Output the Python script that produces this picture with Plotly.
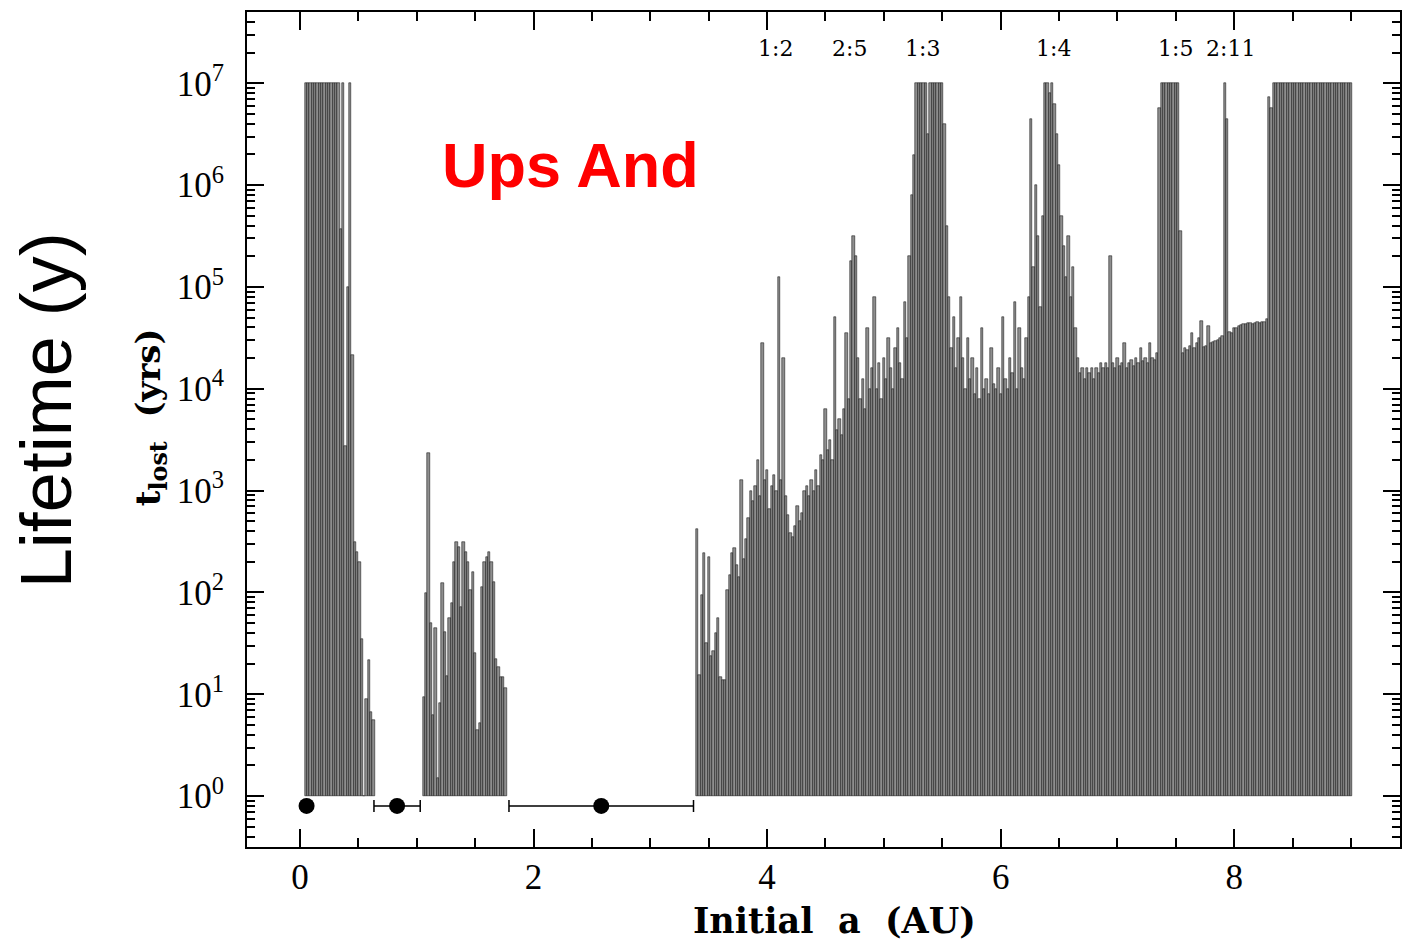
import numpy as np
import plotly.graph_objects as go

# Test-particle survival times around Ups And.
# Initial semi-major axes are sampled every 0.02 AU in three stable-looking zones.
STEP = 0.02
a_inner = np.round(0.05 + STEP * np.arange(30), 3)
a_middle = np.round(1.06 + STEP * np.arange(36), 3)
a_outer = np.round(3.40 + STEP * np.arange(281), 3)

# log10 of the time (years) before each particle was lost; 7 = survived the full 10^7 yr run
log_t_inner = [
    7, 7, 7, 7, 7, 7, 7, 7, 7, 7,
    7, 7, 7, 7, 7, 5.57, 7, 3.44, 5.0, 7,
    4.33, 2.5, 2.4, 2.3, 1.54, 0, 0.95, 1.34, 0.83, 0.75,
]
log_t_middle = [
    0.97, 1.99, 3.37, 1.70, 0.80, 1.65, 0.18, 0.91, 2.09, 1.61,
    1.18, 1.75, 1.90, 2.30, 2.50, 2.45, 1.86, 2.50, 2.40, 2.30,
    2.02, 2.20, 1.41, 0.65, 0.72, 2.05, 2.30, 2.35, 2.40, 2.30,
    2.10, 1.35, 1.27, 1.17, 1.17, 1.06,
]
log_t_outer = [
    2.62, 1.19, 1.97, 2.39, 1.50, 2.35, 1.38, 1.42, 1.60, 1.75,
    1.17, 1.14, 1.14, 2.02, 2.17, 2.39, 2.44, 2.27, 2.15, 3.10,
    2.33, 2.52, 2.73, 3.00, 2.90, 3.05, 3.30, 2.95, 4.45, 3.10,
    3.20, 2.82, 3.05, 3.15, 3.00, 5.10, 3.10, 4.30, 2.95, 2.76,
    2.58, 2.54, 2.65, 2.85, 2.70, 2.78, 3.00, 3.05, 2.95, 3.10,
    3.00, 3.20, 3.05, 3.35, 3.30, 3.80, 3.40, 3.50, 3.30, 4.70,
    3.60, 3.70, 3.55, 3.80, 4.55, 3.90, 5.25, 5.50, 5.30, 4.30,
    3.90, 4.10, 3.80, 4.60, 4.00, 4.20, 4.90, 4.00, 4.25, 3.90,
    4.30, 4.10, 4.50, 4.20, 4.00, 4.40, 4.60, 4.25, 4.10, 4.85,
    4.50, 5.30, 5.90, 6.30, 7, 7, 7, 7, 7, 6.50,
    7, 7, 7, 7, 7, 7, 6.60, 5.60, 4.90, 4.40,
    4.70, 4.20, 4.50, 4.90, 4.30, 4.00, 4.50, 4.10, 4.30, 3.95,
    4.20, 3.90, 4.60, 4.00, 4.10, 3.95, 4.40, 4.05, 4.00, 4.20,
    3.95, 4.70, 4.10, 4.00, 4.30, 4.15, 4.85, 4.00, 4.60, 4.20,
    4.10, 4.50, 4.90, 6.65, 5.20, 6.00, 5.50, 4.80, 5.70, 7,
    7, 6.90, 7, 6.80, 6.50, 6.20, 5.70, 5.40, 5.10, 5.50,
    4.90, 5.20, 4.60, 4.30, 4.15, 4.20, 4.10, 4.20, 4.15, 4.20,
    4.10, 4.20, 4.15, 4.25, 4.20, 4.25, 4.20, 5.30, 4.25, 4.20,
    4.30, 4.22, 4.25, 4.45, 4.20, 4.25, 4.28, 4.22, 4.30, 4.25,
    4.40, 4.27, 4.30, 4.25, 4.45, 4.30, 4.28, 4.35, 6.76, 7,
    7, 7, 7, 7, 7, 7, 7, 5.55, 4.35, 4.40,
    4.38, 4.42, 4.55, 4.40, 4.45, 4.50, 4.67, 4.41, 4.42, 4.62,
    4.45, 4.46, 4.47, 4.48, 4.50, 4.52, 7, 6.65, 4.56, 4.55,
    4.60, 4.60, 4.62, 4.63, 4.64, 4.64, 4.65, 4.65, 4.64, 4.65,
    4.66, 4.65, 4.66, 4.66, 4.69, 6.87, 6.76, 7, 7, 7,
    7, 7, 7, 7, 7, 7, 7, 7, 7, 7,
    7, 7, 7, 7, 7, 7, 7, 7, 7, 7,
    7, 7, 7, 7, 7, 7, 7, 7, 7, 7,
    7,
]

# Planets: semi-major axis and radial excursion (pericentre to apocentre)
planet_a = [0.057, 0.832, 2.58]
planet_half_range = [0.0, 0.198, 0.79]
planet_row = 0.8  # drawn just below the 10^0 baseline

# Mean-motion resonance labels with planet d
res_labels = ["1:2", "2:5", "1:3", "1:4", "1:5", "2:11"]
res_a = [4.068, 4.709, 5.333, 6.453, 7.496, 7.966]

BASE = 1.0  # bars rise from 10^0 yr

a_all = np.concatenate([a_inner, a_middle, a_outer])
t_all = 10 ** np.array(log_t_inner + log_t_middle + log_t_outer, dtype=float)

fig = go.Figure()
fig.add_trace(go.Bar(
    x=a_all,
    y=t_all - BASE,
    base=BASE,
    width=STEP,
    marker=dict(color="#8e8e8e", line=dict(color="#000000", width=0.5)),
    hoverinfo="x+text",
    text=[f"{v:.3g}" for v in t_all],
    textposition="none",
))

fig.add_trace(go.Scatter(
    x=planet_a,
    y=[planet_row] * len(planet_a),
    mode="markers",
    marker=dict(color="black", size=16),
    error_x=dict(type="data", array=planet_half_range, symmetric=True,
                 color="black", thickness=1.5, width=6),
))

serif = "Liberation Serif"
tick_font = dict(family=serif, size=35, color="black")

fig.update_layout(
    width=1402, height=941,
    margin=dict(l=247, r=0, t=12, b=94),
    plot_bgcolor="white", paper_bgcolor="white",
    showlegend=False, bargap=0,
)

fig.update_xaxes(
    range=[-0.453, 9.419],
    showline=True, linecolor="black", linewidth=2, mirror="allticks",
    ticks="inside", ticklen=18, tickwidth=2, tickcolor="black",
    tickmode="linear", tick0=0, dtick=2,
    minor=dict(ticks="inside", tick0=0, dtick=0.5, ticklen=9, tickwidth=1.5, tickcolor="black"),
    showgrid=False, zeroline=False,
    tickfont=tick_font, ticklabelstandoff=-2,
)

decades = list(range(0, 8))
fig.update_yaxes(
    type="log", range=[-0.5, 7.7],
    showline=True, linecolor="black", linewidth=2, mirror="allticks",
    ticks="inside", ticklen=17, tickwidth=2, tickcolor="black",
    tickmode="array", tickvals=[10 ** d for d in decades],
    ticktext=[f"10<sup>{d}</sup>" for d in decades],
    minor=dict(ticks="inside", dtick="D1", ticklen=8, tickwidth=1.5, tickcolor="black"),
    showgrid=False, zeroline=False,
    tickfont=tick_font, ticklabelstandoff=14,
)

def px_x(px):
    return (px - 247) / 1155

def px_y(py):
    return (847 - py) / 835

annotations = []
for lab, xa in zip(res_labels, res_a):
    annotations.append(dict(
        x=xa, y=px_y(48), xref="x", yref="paper", text=lab, showarrow=False,
        xanchor="center", yanchor="middle",
        font=dict(family="DejaVu Serif", size=22, color="black"),
    ))

annotations += [
    dict(x=px_x(571), y=px_y(165), xref="paper", yref="paper", text="<b>Ups And</b>",
         showarrow=False, xanchor="center", yanchor="middle",
         font=dict(family="Liberation Sans", size=63, color="#ff0000")),
    dict(x=px_x(46), y=px_y(410), xref="paper", yref="paper", text="Lifetime (y)",
         showarrow=False, xanchor="center", yanchor="middle", textangle=-90,
         font=dict(family="Liberation Sans", size=72, color="black")),
    dict(x=px_x(150), y=px_y(417), xref="paper", yref="paper",
         text="<b>t<sub>lost</sub>\u00a0\u00a0(yrs)</b>",
         showarrow=False, xanchor="center", yanchor="middle", textangle=-90,
         font=dict(family="DejaVu Serif", size=34, color="black")),
    dict(x=px_x(836), y=px_y(920), xref="paper", yref="paper",
         text="<b>Initial\u00a0\u00a0a\u00a0\u00a0(AU)</b>",
         showarrow=False, xanchor="center", yanchor="middle",
         font=dict(family="DejaVu Serif", size=35, color="black")),
]
fig.update_layout(annotations=annotations)

fig.write_html("out.html")
